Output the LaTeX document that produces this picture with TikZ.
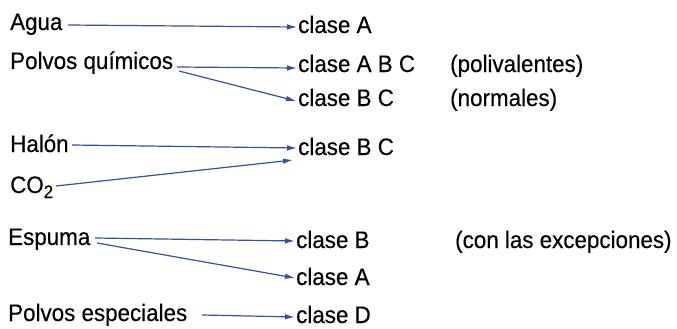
\documentclass[tikz,border=0pt]{standalone}
\usepackage{fontspec}
\setmainfont{Liberation Sans}[FakeBold=0.3,FakeStretch=0.94]
\usetikzlibrary{arrows.meta}
\definecolor{arrblue}{RGB}{50,80,165}
\tikzset{
  lbl/.style={anchor=base west, inner sep=0pt, font=\fontsize{23.8}{27}\selectfont, text=black},
  conn/.style={draw=arrblue, line width=1.2pt, -{Latex[length=10pt,width=5.5pt]}},
}
\begin{document}
\begin{tikzpicture}[x=1pt,y=-1pt]
\useasboundingbox (0,0) rectangle (677,329);
% left items
\node[lbl] (agua) at (10,30) {Agua};
\node[lbl] (pq) at (10,69) {Polvos químicos};
\node[lbl] (halon) at (10,152) {Halón};
\node[lbl] (co2) at (10,193) {CO\raisebox{-5pt}{\fontsize{18}{20}\selectfont 2}};
\node[lbl] (esp) at (8,245) {Espuma};
\node[lbl] (pe) at (8,321) {Polvos especiales};
% right items
\node[lbl] (cA) at (298,33) {clase A};
\node[lbl] (cABC) at (298,72) {clase A B C};
\node[lbl] (cBC1) at (298,106) {clase B C};
\node[lbl] (cBC2) at (298,155) {clase B C};
\node[lbl] (cB) at (296,248) {clase B};
\node[lbl] (cA2) at (296,285) {clase A};
\node[lbl] (cD) at (296,323) {clase D};
% notes
\node[lbl] (poli) at (450,72) {(polivalentes)};
\node[lbl] (norm) at (450,106) {(normales)};
\node[lbl] (exc) at (455,248) {(con las excepciones)};
% connection points
\coordinate (a1) at (68,25);
\coordinate (a2) at (177,67);
\coordinate (a3) at (179,71);
\coordinate (a4) at (72,145);
\coordinate (a5) at (56,186);
\coordinate (a6) at (95,238);
\coordinate (a7) at (97,243);
\coordinate (a8) at (202,315);
\coordinate (b1) at (297,27);
\coordinate (b2) at (297,68);
\coordinate (b3) at (296,101);
\coordinate (b4) at (297,148);
\coordinate (b5) at (293,160);
\coordinate (b6) at (295,241);
\coordinate (b7) at (295,278);
\coordinate (b8) at (295,317);
\draw[conn] (a1) -- (b1);
\draw[conn] (a2) -- (b2);
\draw[conn] (a3) -- (b3);
\draw[conn] (a4) -- (b4);
\draw[conn] (a5) -- (b5);
\draw[conn] (a6) -- (b6);
\draw[conn] (a7) -- (b7);
\draw[conn] (a8) -- (b8);
\end{tikzpicture}
\end{document}
